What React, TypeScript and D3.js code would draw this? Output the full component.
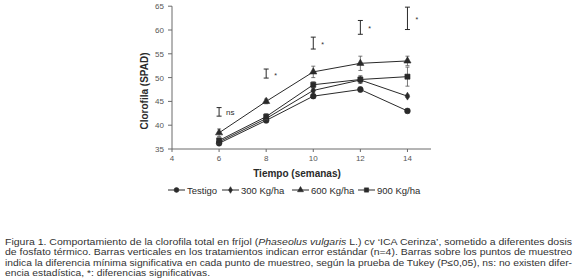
import React from "react";
import * as d3 from "d3";

const weeks = [6, 8, 10, 12, 14];
const seriesNames = ["Testigo", "300 Kg/ha", "600 Kg/ha", "900 Kg/ha"];
const testigo = [36.2, 41.0, 46.1, 47.5, 43.0];
const kg300 = [36.5, 41.4, 47.3, 49.5, 46.1];
const kg600 = [38.4, 45.0, 51.2, 53.0, 53.5];
const kg900 = [36.8, 41.8, 48.5, 49.6, 50.2];
const errTestigo = [0.3, 0.3, 0.4, 0.5, 0.4];
const err300 = [0.4, 0.4, 0.5, 0.6, 0.3];
const err600 = [0.8, 0.5, 1.2, 1.5, 1.0];
const err900 = [0.5, 0.6, 0.6, 0.8, 2.0];
const lsdLow = [41.9, 49.9, 56.0, 59.1, 60.1];
const lsdHigh = [43.7, 51.8, 58.5, 62.0, 64.8];
const lsdLabels = ["ns", "*", "*", "*", "*"];
const xTicks = [4, 6, 8, 10, 12, 14];
const yTicks = [35, 40, 45, 50, 55, 60, 65];
const captionLines = [
  "Figura 1. Comportamiento de la clorofila total en fríjol (|Phaseolus vulgaris| L.) cv ‘ICA Cerinza’, sometido a diferentes dosis",
  "de fosfato térmico. Barras verticales en los tratamientos indican error estándar (n=4). Barras sobre los puntos de muestreo",
  "indica la diferencia mínima significativa en cada punto de muestreo, según la prueba de Tukey (P≤0,05), ns: no existen difer-",
  "encia estadística, *: diferencias significativas.",
];
const captionWidths = [567, 567, 567, 205];

const values = [testigo, kg300, kg600, kg900];
const errors = [errTestigo, err300, err600, err900];
const markers = [d3.symbolCircle, d3.symbolDiamond, d3.symbolTriangle, d3.symbolSquare];
const markerSizes = [26, 18, 22, 26];

const x = d3.scaleLinear().domain([4, 15]).range([172, 431]);
const y = d3.scaleLinear().domain([35, 65]).range([149, 6.2]);

const ink = "#2a2a2a";
const axisCol = "#6a6a6a";

function Marker({ i, cx, cy, s = 1 }: { i: number; cx: number; cy: number; s?: number }) {
  const p = d3.symbol().type(markers[i]).size(markerSizes[i] * s)();
  return <path d={p || ""} transform={`translate(${cx},${cy})`} fill={ink} stroke={ink} strokeWidth={0.6} />;
}

export default function App() {
  const line = d3
    .line<number>()
    .x((_, i) => x(weeks[i]))
    .y((d) => y(d));
  const legendX = [168, 222, 292, 358];
  const legendY = 190;
  return (
    <svg width={580} height={278} style={{ position: "absolute", left: 0, top: 0 }}>
      <rect width={580} height={278} fill="#fff" />
      {/* axes */}
      <line x1={x(4)} x2={x(15)} y1={y(35)} y2={y(35)} stroke={axisCol} strokeWidth={1} />
      <line x1={x(4)} x2={x(4)} y1={y(35)} y2={y(65)} stroke={axisCol} strokeWidth={1} />
      {yTicks.map((t) => (
        <g key={"y" + t}>
          <line x1={x(4) - 4} x2={x(4)} y1={y(t)} y2={y(t)} stroke={axisCol} />
          <text x={x(4) - 8} y={y(t) + 3} fontSize={8} fill="#555" textAnchor="end" fontFamily="Liberation Sans, Arial, sans-serif">
            {t}
          </text>
        </g>
      ))}
      {xTicks.map((t) => (
        <g key={"x" + t}>
          <line x1={x(t)} x2={x(t)} y1={y(35)} y2={y(35) + 3} stroke={axisCol} />
          <text x={x(t)} y={y(35) + 12} fontSize={8} fill="#555" textAnchor="middle" fontFamily="Liberation Sans, Arial, sans-serif">
            {t}
          </text>
        </g>
      ))}
      <text
        transform={`translate(148,91) rotate(-90)`}
        textAnchor="middle"
        fontSize={10}
        fontWeight="bold"
        fill={ink}
        fontFamily="Liberation Sans, Arial, sans-serif"
      >
        Clorofila (SPAD)
      </text>
      <text x={297} y={177} textAnchor="middle" fontSize={10} fontWeight="bold" fill={ink} fontFamily="Liberation Sans, Arial, sans-serif">
        Tiempo (semanas)
      </text>
      {/* LSD bars */}
      {weeks.map((w, i) => (
        <g key={"lsd" + i} stroke={ink} strokeWidth={1}>
          <line x1={x(w)} x2={x(w)} y1={y(lsdLow[i])} y2={y(lsdHigh[i])} />
          <line x1={x(w) - 2.5} x2={x(w) + 2.5} y1={y(lsdLow[i])} y2={y(lsdLow[i])} />
          <line x1={x(w) - 2.5} x2={x(w) + 2.5} y1={y(lsdHigh[i])} y2={y(lsdHigh[i])} />
          <text
            x={x(w) + (lsdLabels[i] === "ns" ? 7 : 8)}
            y={lsdLabels[i] === "ns" ? (y(lsdLow[i]) + y(lsdHigh[i])) / 2 + 3 : (y(lsdLow[i]) + y(lsdHigh[i])) / 2 + 4}
            fontSize={lsdLabels[i] === "ns" ? 8 : 7}
            stroke="none"
            fill={ink}
            fontFamily="Liberation Sans, Arial, sans-serif"
          >
            {lsdLabels[i]}
          </text>
        </g>
      ))}
      {/* series */}
      {values.map((vals, si) => (
        <g key={"s" + si}>
          <path d={line(vals) || ""} fill="none" stroke={ink} strokeWidth={1} />
          {vals.map((v, i) => (
            <g key={i} stroke="#555" strokeWidth={0.8}>
              <line x1={x(weeks[i])} x2={x(weeks[i])} y1={y(v - errors[si][i])} y2={y(v + errors[si][i])} />
              <line x1={x(weeks[i]) - 2} x2={x(weeks[i]) + 2} y1={y(v - errors[si][i])} y2={y(v - errors[si][i])} />
              <line x1={x(weeks[i]) - 2} x2={x(weeks[i]) + 2} y1={y(v + errors[si][i])} y2={y(v + errors[si][i])} />
            </g>
          ))}
          {vals.map((v, i) => (
            <Marker key={"m" + i} i={si} cx={x(weeks[i])} cy={y(v)} />
          ))}
        </g>
      ))}
      {/* legend */}
      {seriesNames.map((n, i) => (
        <g key={"l" + i}>
          <line x1={legendX[i]} x2={legendX[i] + 17} y1={legendY} y2={legendY} stroke={ink} strokeWidth={1} />
          <Marker i={i} cx={legendX[i] + 8.5} cy={legendY} s={0.7} />
          <text x={legendX[i] + 19} y={legendY + 3.5} fontSize={9.5} fill={ink} fontFamily="Liberation Sans, Arial, sans-serif">
            {n}
          </text>
        </g>
      ))}
      {/* caption */}
      {captionLines.map((l, i) => {
        const parts = l.split("|");
        return (
          <text
            key={"c" + i}
            x={5}
            y={244.5 + i * 10.5}
            fontSize={9}
            fill="#333"
            fontFamily="Liberation Sans, Arial, sans-serif"
            textLength={captionWidths[i]}
            lengthAdjust="spacingAndGlyphs"
          >
            {parts.map((p, k) => (
              <tspan key={k} fontStyle={k % 2 === 1 ? "italic" : "normal"}>
                {p}
              </tspan>
            ))}
          </text>
        );
      })}
    </svg>
  );
}
